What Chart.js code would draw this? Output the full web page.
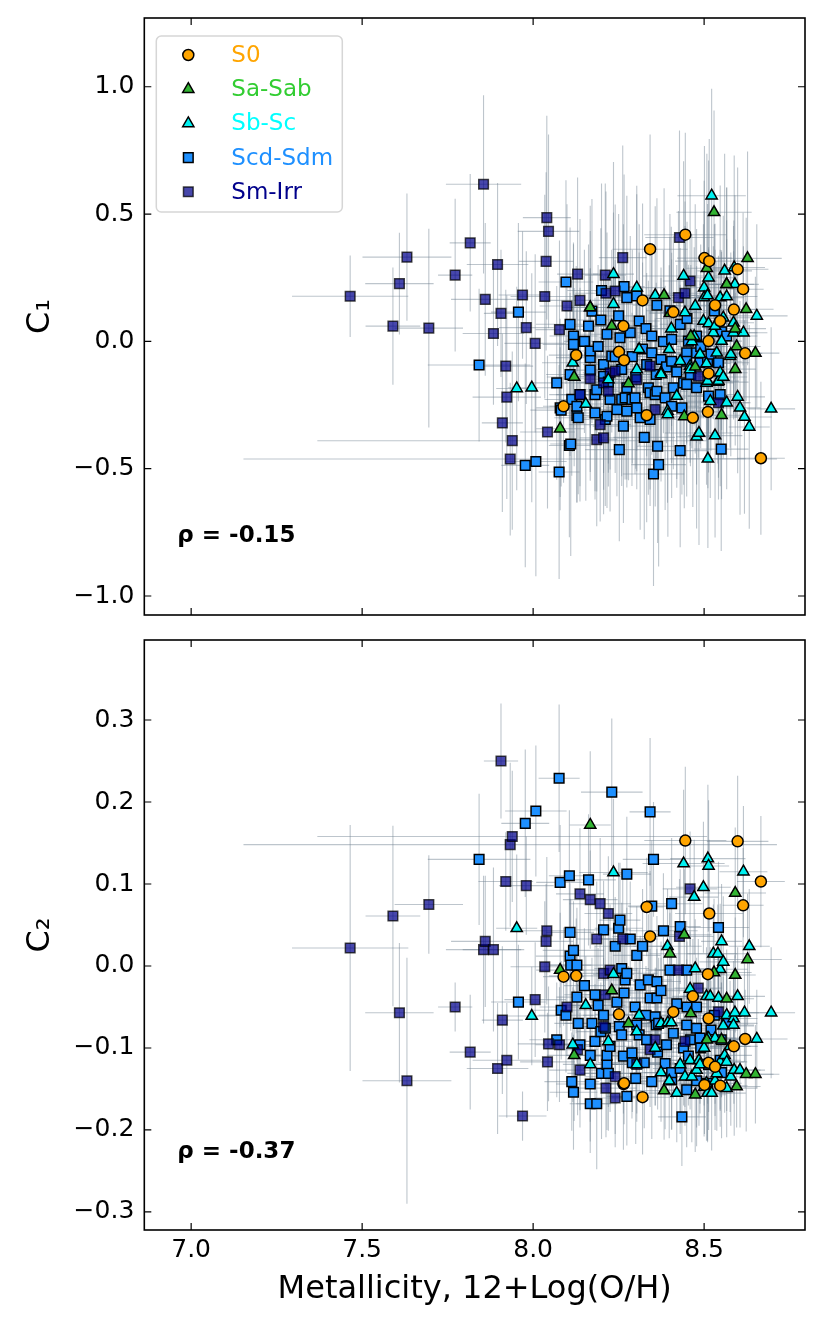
<!DOCTYPE html>
<html>
<head>
<meta charset="utf-8">
<script src="https://cdn.jsdelivr.net/npm/chart.js@4.4.0/dist/chart.umd.min.js"></script>
<style>
  body { margin: 0; background: #fff; }
  #wrap { position: relative; width: 830px; height: 1329px; }
  .panel { position: absolute; left: 0; width: 830px; }
  #topPanel { top: 0; height: 628px; }
  #bottomPanel { top: 628px; height: 701px; }
</style>
</head>
<body>
<div id="wrap">
  <div class="panel" id="topPanel"><canvas id="c1chart"></canvas></div>
  <div class="panel" id="bottomPanel"><canvas id="c2chart"></canvas></div>
</div>
<script>
// each row: [metallicity, metallicity err, C1, C1 err, C2, C2 err]
const s0Rows = [
  [8.089, 0.06, -0.255, 0.30, -0.013, 0.06], [8.126, 0.08, -0.054, 0.35, -0.012, 0.07],
  [8.251, 0.07, -0.041, 0.28, -0.059, 0.06], [8.264, 0.10, 0.060, 0.40, -0.144, 0.08],
  [8.266, 0.06, -0.074, 0.33, -0.143, 0.05], [8.320, 0.09, 0.161, 0.38, -0.160, 0.07],
  [8.332, 0.05, -0.290, 0.42, 0.072, 0.06], [8.342, 0.11, 0.362, 0.45, 0.036, 0.08],
  [8.410, 0.07, 0.115, 0.30, -0.056, 0.05], [8.445, 0.12, 0.419, 0.40, 0.153, 0.09],
  [8.467, 0.06, -0.300, 0.35, -0.037, 0.07], [8.501, 0.08, 0.327, 0.44, -0.145, 0.06],
  [8.511, 0.05, -0.277, 0.30, -0.010, 0.05], [8.513, 0.09, 0.001, 0.36, -0.064, 0.08],
  [8.513, 0.07, -0.126, 0.25, -0.118, 0.06], [8.515, 0.10, 0.315, 0.48, 0.064, 0.09],
  [8.532, 0.06, 0.142, 0.32, -0.123, 0.06], [8.547, 0.08, 0.080, 0.28, -0.146, 0.05],
  [8.587, 0.07, 0.125, 0.35, -0.098, 0.07], [8.598, 0.09, 0.283, 0.40, 0.152, 0.08],
  [8.614, 0.06, 0.205, 0.30, 0.074, 0.07], [8.620, 0.05, -0.047, 0.26, -0.089, 0.06],
  [8.666, 0.07, -0.459, 0.30, 0.103, 0.08]
];

const saRows = [
  [8.079, 0.07, -0.343, 0.32, -0.005, 0.07], [8.120, 0.08, -0.140, 0.35, -0.109, 0.08],
  [8.167, 0.06, 0.133, 0.40, 0.172, 0.09], [8.230, 0.09, 0.060, 0.30, -0.030, 0.06],
  [8.279, 0.07, -0.165, 0.38, -0.070, 0.07], [8.383, 0.10, 0.181, 0.42, -0.152, 0.06],
  [8.400, 0.06, 0.110, 0.30, 0.015, 0.07], [8.442, 0.08, -0.295, 0.36, 0.038, 0.08],
  [8.461, 0.07, 0.020, 0.28, -0.058, 0.06], [8.474, 0.09, -0.100, 0.34, -0.157, 0.07],
  [8.508, 0.06, 0.287, 0.45, -0.090, 0.06], [8.529, 0.11, 0.507, 0.40, -0.008, 0.09],
  [8.551, 0.07, -0.290, 0.33, -0.090, 0.07], [8.566, 0.08, 0.224, 0.38, -0.040, 0.06],
  [8.591, 0.06, -0.109, 0.30, -0.011, 0.07], [8.591, 0.09, 0.050, 0.35, 0.089, 0.08],
  [8.595, 0.07, -0.020, 0.28, -0.147, 0.05], [8.623, 0.08, 0.126, 0.36, -0.132, 0.07],
  [8.627, 0.10, 0.326, 0.42, 0.008, 0.08], [8.650, 0.07, -0.046, 0.30, -0.132, 0.06]
];

const sbRows = [
  [7.952, 0.06, -0.185, 0.40, 0.046, 0.09], [7.996, 0.07, -0.182, 0.45, -0.061, 0.06],
  [8.116, 0.09, -0.084, 0.35, -0.096, 0.07], [8.154, 0.06, -0.246, 0.38, -0.048, 0.06],
  [8.167, 0.08, 0.133, 0.30, -0.120, 0.07], [8.220, 0.07, -0.150, 0.42, -0.092, 0.08],
  [8.235, 0.10, 0.146, 0.36, 0.114, 0.09], [8.235, 0.06, 0.264, 0.44, -0.010, 0.06],
  [8.303, 0.08, 0.211, 0.40, -0.120, 0.07], [8.303, 0.07, -0.110, 0.32, -0.080, 0.06],
  [8.310, 0.09, -0.031, 0.38, -0.060, 0.08], [8.357, 0.06, 0.181, 0.35, -0.100, 0.07],
  [8.374, 0.08, -0.123, 0.30, -0.130, 0.06], [8.374, 0.07, -0.130, 0.42, -0.070, 0.08],
  [8.393, 0.10, -0.274, 0.36, 0.024, 0.07], [8.394, 0.06, -0.287, 0.48, -0.069, 0.06],
  [8.398, 0.08, -0.031, 0.33, -0.140, 0.07], [8.404, 0.07, 0.050, 0.40, -0.069, 0.08],
  [8.420, 0.09, -0.215, 0.36, -0.155, 0.06], [8.430, 0.06, -0.078, 0.30, -0.120, 0.07],
  [8.440, 0.12, 0.257, 0.45, 0.125, 0.09], [8.444, 0.07, 0.113, 0.34, -0.135, 0.06],
  [8.459, 0.08, -0.097, 0.38, -0.028, 0.07], [8.459, 0.06, -0.110, 0.30, -0.115, 0.06],
  [8.464, 0.09, 0.000, 0.42, -0.135, 0.08], [8.471, 0.07, 0.020, 0.35, 0.084, 0.07],
  [8.474, 0.08, 0.139, 0.40, -0.003, 0.06], [8.478, 0.06, -0.375, 0.36, -0.127, 0.07],
  [8.485, 0.10, -0.360, 0.44, -0.115, 0.08], [8.488, 0.07, -0.051, 0.30, -0.120, 0.06],
  [8.498, 0.08, 0.080, 0.38, 0.096, 0.08], [8.500, 0.06, 0.211, 0.42, -0.148, 0.06],
  [8.500, 0.09, 0.172, 0.34, -0.100, 0.07], [8.507, 0.07, -0.087, 0.30, -0.037, 0.06],
  [8.507, 0.08, -0.163, 0.40, -0.143, 0.07], [8.510, 0.06, 0.180, 0.36, -0.088, 0.08],
  [8.510, 0.07, -0.156, 0.32, -0.155, 0.06], [8.511, 0.11, -0.461, 0.35, 0.131, 0.09],
  [8.513, 0.08, 0.250, 0.46, -0.088, 0.07], [8.513, 0.06, 0.070, 0.30, 0.122, 0.08],
  [8.518, 0.09, -0.235, 0.38, -0.037, 0.06], [8.522, 0.10, 0.572, 0.42, -0.155, 0.07],
  [8.527, 0.07, 0.034, 0.34, 0.015, 0.06], [8.532, 0.08, -0.370, 0.40, -0.088, 0.08],
  [8.532, 0.06, 0.060, 0.30, -0.140, 0.06], [8.537, 0.07, -0.045, 0.36, -0.131, 0.07],
  [8.540, 0.09, -0.160, 0.32, 0.015, 0.06], [8.542, 0.06, -0.156, 0.38, -0.039, 0.07],
  [8.547, 0.08, -0.123, 0.30, -0.004, 0.08], [8.547, 0.07, 0.172, 0.44, -0.117, 0.06],
  [8.551, 0.06, 0.001, 0.35, 0.030, 0.07], [8.556, 0.09, 0.093, 0.40, -0.073, 0.06],
  [8.556, 0.07, -0.140, 0.32, 0.005, 0.08], [8.560, 0.08, 0.277, 0.46, -0.109, 0.07],
  [8.566, 0.06, 0.224, 0.38, -0.117, 0.06], [8.566, 0.07, -0.241, 0.34, -0.060, 0.07],
  [8.566, 0.09, 0.176, 0.30, -0.149, 0.06], [8.576, 0.06, -0.058, 0.36, -0.098, 0.08],
  [8.578, 0.08, -0.051, 0.40, -0.135, 0.06], [8.586, 0.07, 0.034, 0.32, -0.064, 0.07],
  [8.586, 0.06, 0.073, 0.38, -0.072, 0.06], [8.588, 0.09, 0.290, 0.44, -0.127, 0.08],
  [8.590, 0.07, 0.224, 0.35, -0.057, 0.07], [8.598, 0.08, -0.218, 0.30, -0.037, 0.06],
  [8.605, 0.06, -0.261, 0.42, -0.127, 0.07], [8.615, 0.07, 0.034, 0.34, 0.115, 0.08],
  [8.618, 0.08, -0.297, 0.38, -0.057, 0.06], [8.632, 0.06, -0.336, 0.40, 0.024, 0.07],
  [8.654, 0.09, 0.100, 0.36, -0.089, 0.06], [8.696, 0.07, -0.265, 0.32, -0.057, 0.08]
];

const scdRows = [
  [7.842, 0.15, -0.093, 0.30, 0.130, 0.08], [7.957, 0.08, 0.115, 0.35, -0.044, 0.07],
  [7.977, 0.07, -0.487, 0.40, 0.174, 0.09], [8.008, 0.09, -0.472, 0.45, 0.189, 0.08],
  [8.069, 0.08, -0.163, 0.38, -0.090, 0.07], [8.076, 0.06, -0.513, 0.42, 0.229, 0.09],
  [8.079, 0.07, -0.261, 0.35, 0.102, 0.07], [8.082, 0.09, -0.270, 0.30, -0.054, 0.06],
  [8.096, 0.08, 0.233, 0.40, -0.060, 0.07], [8.106, 0.06, -0.409, 0.36, 0.110, 0.08],
  [8.108, 0.07, -0.130, 0.32, 0.041, 0.06], [8.108, 0.10, 0.067, 0.38, 0.012, 0.07],
  [8.110, 0.06, -0.403, 0.44, 0.001, 0.08], [8.113, 0.08, -0.228, 0.30, -0.141, 0.06],
  [8.118, 0.07, 0.021, 0.36, -0.154, 0.07], [8.118, 0.09, -0.012, 0.40, 0.019, 0.06],
  [8.128, 0.06, -0.291, 0.34, -0.038, 0.08], [8.128, 0.08, -0.255, 0.38, 0.001, 0.07],
  [8.132, 0.07, -0.300, 0.30, -0.070, 0.06], [8.137, 0.09, -0.209, 0.42, -0.096, 0.08],
  [8.150, 0.06, 0.000, 0.36, -0.024, 0.07], [8.162, 0.08, 0.060, 0.32, 0.105, 0.08],
  [8.167, 0.07, -0.113, 0.40, -0.109, 0.06], [8.167, 0.10, -0.064, 0.35, -0.144, 0.07],
  [8.167, 0.06, -0.038, 0.30, -0.168, 0.06], [8.172, 0.08, 0.119, 0.44, -0.070, 0.08],
  [8.181, 0.07, -0.209, 0.38, -0.092, 0.07], [8.181, 0.09, -0.281, 0.34, -0.035, 0.06],
  [8.186, 0.06, -0.190, 0.40, -0.168, 0.08], [8.190, 0.08, -0.020, 0.32, -0.048, 0.07],
  [8.198, 0.07, 0.084, 0.36, -0.080, 0.06], [8.200, 0.10, 0.200, 0.42, -0.131, 0.08],
  [8.206, 0.06, -0.091, 0.30, -0.060, 0.07], [8.206, 0.08, -0.137, 0.38, 0.044, 0.06],
  [8.211, 0.07, -0.307, 0.34, -0.076, 0.07], [8.216, 0.09, 0.028, 0.40, -0.120, 0.08],
  [8.216, 0.06, -0.294, 0.36, -0.109, 0.06], [8.220, 0.08, -0.160, 0.32, -0.131, 0.07],
  [8.225, 0.07, -0.228, 0.44, -0.098, 0.08], [8.230, 0.09, -0.058, 0.30, 0.212, 0.09],
  [8.240, 0.06, -0.060, 0.38, 0.024, 0.06], [8.245, 0.08, -0.268, 0.34, -0.044, 0.07],
  [8.250, 0.07, 0.100, 0.40, 0.046, 0.08], [8.252, 0.10, -0.425, 0.36, -0.074, 0.06],
  [8.254, 0.06, 0.014, 0.30, 0.056, 0.07], [8.259, 0.08, -0.110, 0.42, -0.003, 0.08],
  [8.259, 0.07, -0.228, 0.34, -0.084, 0.06], [8.264, 0.09, -0.333, 0.38, -0.110, 0.07],
  [8.266, 0.06, 0.215, 0.44, -0.033, 0.08], [8.269, 0.08, -0.222, 0.32, -0.017, 0.06],
  [8.274, 0.07, 0.172, 0.40, 0.112, 0.07], [8.274, 0.09, -0.182, 0.36, -0.009, 0.08],
  [8.274, 0.06, -0.274, 0.30, -0.159, 0.06], [8.284, 0.08, 0.034, 0.38, 0.033, 0.07],
  [8.289, 0.07, -0.228, 0.34, -0.106, 0.08], [8.290, 0.10, -0.060, 0.42, -0.118, 0.06],
  [8.298, 0.06, -0.222, 0.30, -0.050, 0.07], [8.300, 0.08, -0.140, 0.36, -0.137, 0.08],
  [8.303, 0.07, 0.178, 0.40, 0.013, 0.06], [8.303, 0.09, -0.261, 0.32, -0.072, 0.07],
  [8.310, 0.06, 0.080, 0.38, -0.084, 0.08], [8.313, 0.08, -0.300, 0.44, -0.023, 0.06],
  [8.320, 0.07, -0.030, 0.34, 0.024, 0.07], [8.325, 0.09, -0.377, 0.40, -0.118, 0.08],
  [8.330, 0.06, 0.050, 0.30, -0.060, 0.06], [8.332, 0.08, -0.091, 0.36, -0.090, 0.07],
  [8.337, 0.07, -0.182, 0.42, -0.017, 0.08], [8.342, 0.10, -0.307, 0.34, -0.039, 0.06],
  [8.342, 0.06, -0.202, 0.38, 0.188, 0.09], [8.347, 0.08, 0.021, 0.32, -0.141, 0.07],
  [8.347, 0.07, -0.045, 0.40, 0.073, 0.08], [8.352, 0.09, -0.521, 0.44, 0.130, 0.07],
  [8.357, 0.06, -0.209, 0.30, -0.062, 0.06], [8.360, 0.08, -0.130, 0.36, -0.072, 0.07],
  [8.362, 0.07, 0.142, 0.42, -0.019, 0.08], [8.362, 0.09, -0.196, 0.34, -0.039, 0.06],
  [8.364, 0.06, -0.412, 0.38, -0.105, 0.07], [8.367, 0.08, -0.484, 0.40, -0.070, 0.08],
  [8.374, 0.07, -0.071, 0.32, -0.030, 0.06], [8.381, 0.10, -0.001, 0.36, 0.043, 0.07],
  [8.386, 0.06, -0.222, 0.44, -0.119, 0.08], [8.390, 0.08, -0.100, 0.30, -0.096, 0.06],
  [8.400, 0.07, 0.120, 0.38, -0.005, 0.07], [8.405, 0.09, 0.008, 0.34, 0.076, 0.08],
  [8.405, 0.06, -0.078, 0.40, -0.139, 0.06], [8.405, 0.08, -0.255, 0.36, -0.130, 0.07],
  [8.410, 0.07, -0.182, 0.32, -0.082, 0.08], [8.420, 0.09, -0.120, 0.42, -0.046, 0.06],
  [8.430, 0.06, 0.067, 0.30, 0.048, 0.07], [8.430, 0.08, -0.429, 0.38, -0.125, 0.08],
  [8.435, 0.07, -0.261, 0.34, -0.184, 0.06], [8.440, 0.10, -0.163, 0.40, -0.100, 0.07],
  [8.449, 0.06, -0.045, 0.36, -0.072, 0.08], [8.449, 0.08, -0.078, 0.32, -0.005, 0.06],
  [8.449, 0.07, -0.169, 0.44, -0.151, 0.07], [8.450, 0.09, 0.090, 0.38, -0.050, 0.08],
  [8.454, 0.06, 0.001, 0.30, -0.110, 0.06], [8.460, 0.08, -0.130, 0.36, -0.090, 0.07],
  [8.478, 0.07, 0.021, 0.42, -0.140, 0.08], [8.478, 0.09, -0.045, 0.34, -0.050, 0.06],
  [8.478, 0.06, -0.182, 0.38, -0.076, 0.07], [8.488, 0.08, -0.084, 0.32, -0.088, 0.08],
  [8.490, 0.07, -0.020, 0.40, -0.100, 0.06], [8.510, 0.10, -0.080, 0.36, -0.143, 0.07],
  [8.513, 0.06, -0.215, 0.30, -0.120, 0.08], [8.520, 0.08, -0.050, 0.38, -0.078, 0.06],
  [8.530, 0.07, 0.120, 0.34, -0.060, 0.07], [8.542, 0.09, -0.084, 0.42, 0.047, 0.08],
  [8.547, 0.06, -0.209, 0.36, -0.115, 0.06], [8.550, 0.08, -0.423, 0.40, -0.090, 0.07],
  [8.551, 0.07, 0.038, 0.32, -0.130, 0.08], [8.566, 0.09, 0.021, 0.38, -0.070, 0.06]
];

const smRows = [
  [7.465, 0.17, 0.177, 0.16, 0.022, 0.15], [7.590, 0.08, 0.060, 0.23, 0.061, 0.11],
  [7.609, 0.10, 0.227, 0.20, -0.057, 0.085], [7.631, 0.13, 0.331, 0.25, -0.140, 0.15],
  [7.695, 0.10, 0.052, 0.39, 0.075, 0.06], [7.772, 0.05, 0.260, 0.30, -0.050, 0.03],
  [7.816, 0.06, 0.387, 0.27, -0.105, 0.07], [7.855, 0.11, 0.617, 0.35, 0.020, 0.09],
  [7.860, 0.10, 0.165, 0.30, 0.030, 0.08], [7.884, 0.09, 0.031, 0.28, 0.020, 0.10],
  [7.896, 0.09, 0.302, 0.32, -0.125, 0.08], [7.906, 0.05, 0.110, 0.25, 0.250, 0.07],
  [7.910, 0.06, -0.320, 0.35, -0.066, 0.09], [7.920, 0.08, -0.097, 0.30, 0.103, 0.06],
  [7.923, 0.10, -0.219, 0.40, -0.115, 0.07], [7.933, 0.78, -0.462, 0.30, 0.148, 0.10],
  [7.939, 0.57, -0.390, 0.35, 0.158, 0.08], [7.969, 0.07, 0.182, 0.25, -0.183, 0.03],
  [7.980, 0.08, 0.054, 0.30, 0.098, 0.06], [8.006, 0.09, -0.008, 0.35, -0.041, 0.07],
  [8.034, 0.10, 0.176, 0.40, -0.001, 0.08], [8.038, 0.08, 0.314, 0.35, 0.030, 0.07],
  [8.040, 0.07, 0.486, 0.40, 0.043, 0.09], [8.045, 0.09, 0.432, 0.38, -0.095, 0.07],
  [8.042, 0.08, -0.356, 0.30, -0.117, 0.06], [8.077, 0.07, 0.046, 0.35, -0.096, 0.07],
  [8.099, 0.08, 0.139, 0.40, -0.050, 0.06], [8.130, 0.06, 0.264, 0.38, -0.102, 0.08],
  [8.137, 0.09, 0.161, 0.32, -0.127, 0.07], [8.137, 0.07, -0.209, 0.36, 0.088, 0.08],
  [8.167, 0.08, -0.147, 0.40, 0.081, 0.06], [8.186, 0.06, -0.386, 0.34, 0.033, 0.07],
  [8.196, 0.09, -0.327, 0.38, 0.076, 0.08], [8.206, 0.07, -0.379, 0.30, -0.074, 0.06],
  [8.206, 0.08, -0.163, 0.42, -0.009, 0.07], [8.211, 0.06, 0.260, 0.36, -0.035, 0.08],
  [8.213, 0.09, 0.189, 0.40, -0.149, 0.06], [8.220, 0.07, -0.196, 0.32, 0.064, 0.07],
  [8.225, 0.08, -0.123, 0.38, -0.005, 0.08], [8.240, 0.06, 0.198, 0.34, -0.161, 0.06],
  [8.240, 0.09, -0.117, 0.40, -0.135, 0.07], [8.262, 0.07, 0.329, 0.44, 0.033, 0.08],
  [8.303, 0.08, -0.150, 0.36, -0.120, 0.06], [8.342, 0.06, -0.097, 0.30, -0.102, 0.07],
  [8.357, 0.09, -0.268, 0.38, -0.090, 0.08], [8.425, 0.07, 0.172, 0.34, -0.005, 0.06],
  [8.428, 0.10, 0.408, 0.42, 0.036, 0.07], [8.444, 0.06, 0.189, 0.36, -0.092, 0.08],
  [8.459, 0.08, 0.237, 0.40, 0.094, 0.07], [8.483, 0.07, -0.137, 0.32, -0.027, 0.06],
  [8.542, 0.09, -0.241, 0.38, -0.056, 0.07]
];

const xTicks = [7.0, 7.5, 8.0, 8.5];
const c1Ticks = [-1.0, -0.5, 0.0, 0.5, 1.0];
const c2Ticks = [-0.3, -0.2, -0.1, 0.0, 0.1, 0.2, 0.3];
const rhoC1 = "ρ = -0.15";
const rhoC2 = "ρ = -0.37";

const groups = [
  { label: "S0", rows: s0Rows, shape: "circle", r: 5.5, fill: "#ffa500", edge: "#000", text: "#ffa500" },
  { label: "Sa-Sab", rows: saRows, shape: "triangle", r: 6.5, fill: "#32b432", edge: "#000", text: "#32cd32" },
  { label: "Sb-Sc", rows: sbRows, shape: "triangle", r: 6.5, fill: "#00f0f0", edge: "#000", text: "#00ffff" },
  { label: "Scd-Sdm", rows: scdRows, shape: "rect", r: 6.8, fill: "#1e90ff", edge: "#000", text: "#1e90ff" },
  { label: "Sm-Irr", rows: smRows, shape: "rect", r: 6.8, fill: "rgba(0,0,139,0.72)", edge: "rgba(0,0,0,0.72)", text: "#00008b" }
];
// first dataset is painted last in Chart.js
const drawOrder = [groups[0], groups[1], groups[2], groups[4], groups[3]];

Chart.defaults.font.family = "'DejaVu Sans', sans-serif";
Chart.defaults.color = "#000";

function makeDatasets(col) {
  return drawOrder.map(g => ({
    label: g.label,
    data: g.rows.map(r => ({ x: r[0], y: r[col], xe: r[1], ye: r[col + 1] })),
    pointStyle: g.shape,
    pointRadius: g.r,
    pointHoverRadius: g.r,
    backgroundColor: g.fill,
    borderColor: g.edge,
    borderWidth: 1.5
  }));
}

function fmt(v) {
  const s = Math.abs(v).toFixed(1);
  return v < -1e-9 ? "\u2212" + s : s;
}

// Chart.js keeps room for half a tick label above and below; the reference has none
function fixY(s) {
  s.width = 144.3;
  s.paddingTop = 0;
  s.paddingBottom = 0;
}
function fixX(s) {
  s.height = 99;
  s.paddingLeft = 0;
  s.paddingRight = 0;
}

const errorBars = {
  id: "errorBars",
  beforeDatasetsDraw(chart) {
    const { ctx, chartArea: a, scales: { x, y } } = chart;
    ctx.save();
    ctx.beginPath();
    ctx.rect(a.left, a.top, a.right - a.left, a.bottom - a.top);
    ctx.clip();
    ctx.strokeStyle = "rgba(112,128,144,0.46)";
    ctx.lineWidth = 1.1;
    chart.data.datasets.forEach(ds => {
      ds.data.forEach(p => {
        const px = x.getPixelForValue(p.x);
        const py = y.getPixelForValue(p.y);
        ctx.beginPath();
        ctx.moveTo(x.getPixelForValue(p.x - p.xe), py);
        ctx.lineTo(x.getPixelForValue(p.x + p.xe), py);
        ctx.stroke();
        ctx.beginPath();
        ctx.moveTo(px, y.getPixelForValue(p.y - p.ye));
        ctx.lineTo(px, y.getPixelForValue(p.y + p.ye));
        ctx.stroke();
      });
    });
    ctx.restore();
  }
};

// box round the plot with inward ticks on all four sides
const frame = {
  id: "frame",
  afterDatasetsDraw(chart, args, opts) {
    const { ctx, chartArea: a, scales: { x, y } } = chart;
    const len = 7;
    ctx.save();
    ctx.strokeStyle = "#000";
    ctx.lineWidth = 1.2;
    ctx.beginPath();
    opts.xTicks.forEach(v => {
      const px = x.getPixelForValue(v);
      ctx.moveTo(px, a.bottom); ctx.lineTo(px, a.bottom - len);
      ctx.moveTo(px, a.top); ctx.lineTo(px, a.top + len);
    });
    opts.yTicks.forEach(v => {
      const py = y.getPixelForValue(v);
      ctx.moveTo(a.left, py); ctx.lineTo(a.left + len, py);
      ctx.moveTo(a.right, py); ctx.lineTo(a.right - len, py);
    });
    ctx.stroke();
    ctx.lineWidth = 1.6;
    ctx.strokeRect(a.left, a.top, a.right - a.left, a.bottom - a.top);
    ctx.font = "bold 23px 'DejaVu Sans'";
    ctx.fillStyle = "#000";
    ctx.textBaseline = "middle";
    ctx.fillText(opts.rho, a.left + 0.05 * (a.right - a.left), a.top + 0.868 * (a.bottom - a.top));
    ctx.restore();
  }
};

function marker(ctx, g, x, y) {
  const opts = { pointStyle: g.shape, radius: g.r, borderWidth: 1.5, rotation: 0 };
  ctx.fillStyle = g.fill;
  ctx.strokeStyle = g.edge;
  ctx.lineWidth = 1.5;
  Chart.helpers.drawPoint(ctx, opts, x, y);
}

const legendBox = {
  id: "legendBox",
  afterDraw(chart) {
    const { ctx, chartArea: a } = chart;
    const bx = a.left + 12, by = a.top + 18, bw = 186, bh = 176, rad = 5;
    ctx.save();
    ctx.beginPath();
    ctx.moveTo(bx + rad, by);
    ctx.arcTo(bx + bw, by, bx + bw, by + bh, rad);
    ctx.arcTo(bx + bw, by + bh, bx, by + bh, rad);
    ctx.arcTo(bx, by + bh, bx, by, rad);
    ctx.arcTo(bx, by, bx + bw, by, rad);
    ctx.closePath();
    ctx.fillStyle = "rgba(255,255,255,0.8)";
    ctx.fill();
    ctx.strokeStyle = "#d6d6d6";
    ctx.lineWidth = 1.5;
    ctx.stroke();
    groups.forEach((g, i) => {
      const y = by + 19 + i * 34.2;
      marker(ctx, g, bx + 32, y);
      ctx.fillStyle = g.text;
      ctx.font = "23px 'DejaVu Sans'";
      ctx.textBaseline = "middle";
      ctx.textAlign = "left";
      ctx.fillText(g.label, bx + 75, y + 1);
    });
    ctx.restore();
  }
};

const xRange = { min: 6.863, max: 8.795 };

new Chart(document.getElementById("c1chart"), {
  type: "scatter",
  data: { datasets: makeDatasets(2) },
  options: {
    responsive: true,
    maintainAspectRatio: false,
    animation: false,
    events: [],
    layout: { padding: { top: 18, right: 25, bottom: 13, left: 0 } },
    scales: {
      x: { type: "linear", min: xRange.min, max: xRange.max, display: false },
      y: {
        type: "linear", min: -1.0746, max: 1.27,
        grid: { display: false, drawTicks: false },
        border: { display: false },
        afterBuildTicks: s => { s.ticks = c1Ticks.map(v => ({ value: v })); },
        afterFit: fixY,
        ticks: { font: { size: 25 }, padding: 10, callback: v => fmt(v) },
        title: { display: true, text: "C₁", font: { size: 32 }, padding: { top: 21, bottom: 0 } }
      }
    },
    plugins: {
      legend: { display: false },
      tooltip: { enabled: false },
      frame: { xTicks: xTicks, yTicks: c1Ticks, rho: rhoC1 }
    }
  },
  plugins: [errorBars, frame, legendBox]
});

new Chart(document.getElementById("c2chart"), {
  type: "scatter",
  data: { datasets: makeDatasets(4) },
  options: {
    responsive: true,
    maintainAspectRatio: false,
    animation: false,
    events: [],
    layout: { padding: { top: 12, right: 25, bottom: 0, left: 0 } },
    scales: {
      x: {
        type: "linear", min: xRange.min, max: xRange.max,
        grid: { display: false, drawTicks: false },
        border: { display: false },
        afterBuildTicks: s => { s.ticks = xTicks.map(v => ({ value: v })); },
        afterFit: fixX,
        ticks: { font: { size: 25 }, padding: 5, maxRotation: 0, callback: v => fmt(v) },
        title: { display: true, text: "Metallicity, 12+Log(O/H)", font: { size: 32 }, padding: { top: 0, bottom: 20 } }
      },
      y: {
        type: "linear", min: -0.322, max: 0.3976,
        grid: { display: false, drawTicks: false },
        border: { display: false },
        afterBuildTicks: s => { s.ticks = c2Ticks.map(v => ({ value: v })); },
        afterFit: fixY,
        ticks: { font: { size: 25 }, padding: 10, callback: v => fmt(v) },
        title: { display: true, text: "C₂", font: { size: 32 }, padding: { top: 21, bottom: 0 } }
      }
    },
    plugins: {
      legend: { display: false },
      tooltip: { enabled: false },
      frame: { xTicks: xTicks, yTicks: c2Ticks, rho: rhoC2 }
    }
  },
  plugins: [errorBars, frame]
});
</script>
</body>
</html>
